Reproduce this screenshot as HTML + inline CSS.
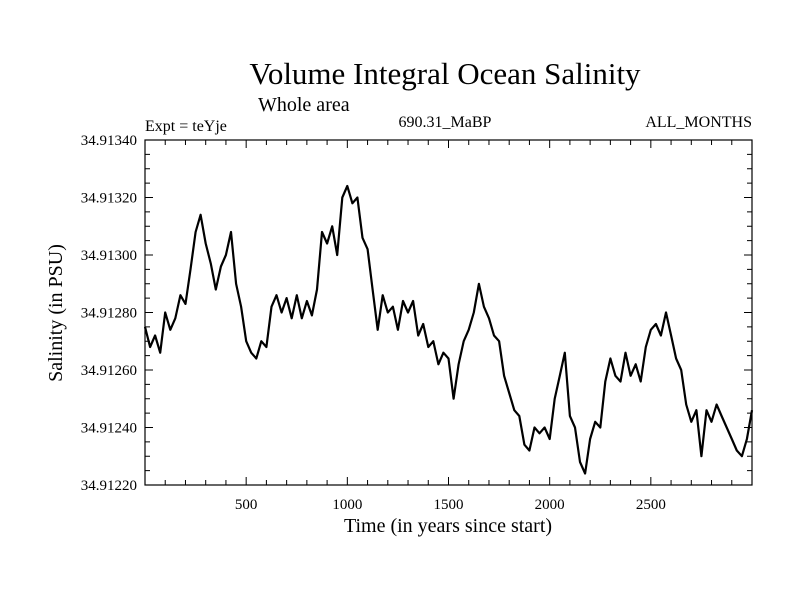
<!DOCTYPE html>
<html><head><meta charset="utf-8"><style>body{margin:0;background:#fff}svg{display:block}text{font-family:"Liberation Serif",serif;fill:#000}</style></head>
<body>
<svg id="c" width="800" height="600">
<text x="445" y="84" font-size="31" text-anchor="middle">Volume Integral Ocean Salinity</text>
<text x="258" y="111" font-size="20">Whole area</text>
<text x="145" y="131" font-size="16">Expt = teYje</text>
<text x="445" y="127" font-size="16" text-anchor="middle">690.31_MaBP</text>
<text x="752" y="127" font-size="16" text-anchor="end">ALL_MONTHS</text>
<text x="448" y="532" font-size="20" text-anchor="middle">Time (in years since start)</text>
<text transform="translate(62,313) rotate(-90)" font-size="20" text-anchor="middle">Salinity (in PSU)</text>
<g id="ax"></g>
</svg>
<script>
const years=[];for(let i=0;i<=120;i++)years.push(i*25);
const salinity=[34.91275,34.91268,34.91272,34.91266,34.91280,34.91274,34.91278,34.91286,34.91283,34.91295,34.91308,34.91314,34.91304,34.91297,34.91288,34.91296,34.91300,34.91308,34.91290,34.91282,34.91270,34.91266,34.91264,34.91270,34.91268,34.91282,34.91286,34.91280,34.91285,34.91278,34.91286,34.91278,34.91284,34.91279,34.91288,34.91308,34.91304,34.91310,34.91300,34.91320,34.91324,34.91318,34.91320,34.91306,34.91302,34.91288,34.91274,34.91286,34.91280,34.91282,34.91274,34.91284,34.91280,34.91284,34.91272,34.91276,34.91268,34.91270,34.91262,34.91266,34.91264,34.91250,34.91262,34.91270,34.91274,34.91280,34.91290,34.91282,34.91278,34.91272,34.91270,34.91258,34.91252,34.91246,34.91244,34.91234,34.91232,34.91240,34.91238,34.91240,34.91236,34.91250,34.91258,34.91266,34.91244,34.91240,34.91228,34.91224,34.91236,34.91242,34.91240,34.91256,34.91264,34.91258,34.91256,34.91266,34.91258,34.91262,34.91256,34.91268,34.91274,34.91276,34.91272,34.91280,34.91272,34.91264,34.91260,34.91248,34.91242,34.91246,34.91230,34.91246,34.91242,34.91248,34.91244,34.91240,34.91236,34.91232,34.91230,34.91236,34.91246];
const xTicks=[500,1000,1500,2000,2500];
const yTicks=[34.9122,34.9124,34.9126,34.9128,34.9130,34.9132,34.9134];
const L=145,R=752,T=140,B=485,X0=0,X1=3000,Y0=34.9122,Y1=34.9134;
const NS='http://www.w3.org/2000/svg';
const sx=v=>L+(v-X0)/(X1-X0)*(R-L);
const sy=v=>B-(v-Y0)/(Y1-Y0)*(B-T);
const g=document.getElementById('ax');
function mk(t,a){const e=document.createElementNS(NS,t);for(const k in a)e.setAttribute(k,a[k]);g.appendChild(e);return e;}
let d='';
for(let x=100;x<3000;x+=100){const p=sx(x),big=x%500===0?8:5;d+=`M${p},${B}v${-big}M${p},${T}v${big}`;}
for(let k=1;k<24;k++){const v=Y0+k*0.00005,p=sy(v),big=k%4===0?8:5;d+=`M${L},${p}h${big}M${R},${p}h${-big}`;}
const tk=mk('path',{d:d,stroke:'#000','stroke-width':1,fill:'none'});


xTicks.forEach(v=>{const t=mk('text',{x:sx(v),y:B+24,'font-size':15,'text-anchor':'middle'});t.textContent=v;

});
yTicks.forEach(v=>{const t=mk('text',{x:L-8,y:sy(v)+5,'font-size':15,'text-anchor':'end'});t.textContent=v.toFixed(5);

});
const pts=years.map((y,i)=>sx(y).toFixed(1)+','+sy(salinity[i]).toFixed(1)).join(' ');
const ln=mk('polyline',{points:pts,fill:'none',stroke:'#000','stroke-width':2.2,'stroke-linejoin':'round'});


const fr=mk('rect',{x:L,y:T,width:R-L,height:B-T,fill:'none',stroke:'#000','stroke-width':1.2});


</script>
</body></html>
